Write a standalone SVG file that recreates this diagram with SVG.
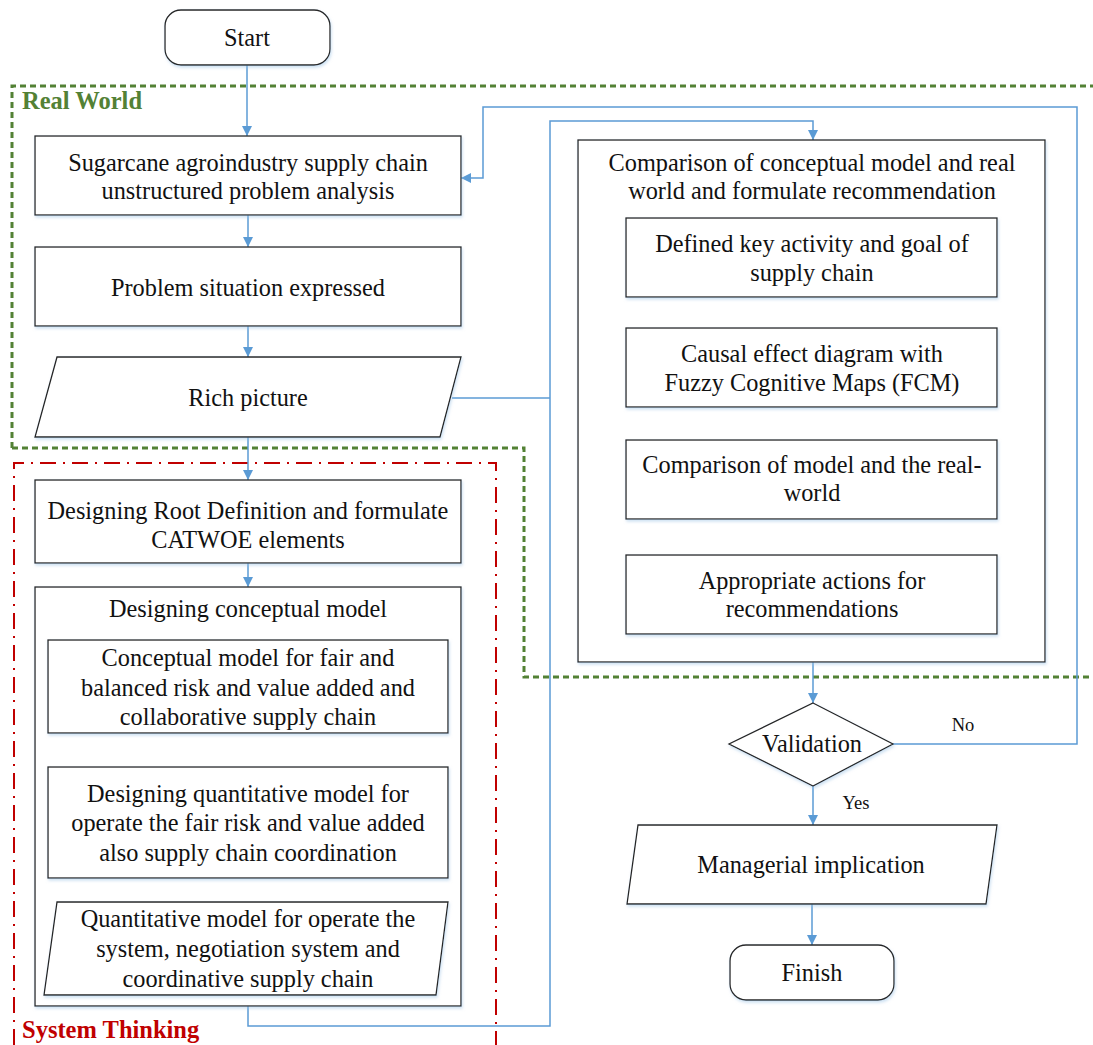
<svg xmlns="http://www.w3.org/2000/svg" width="1093" height="1045" viewBox="0 0 1093 1045">
<defs>
<style>
.box{fill:#fff;stroke:#262626;stroke-width:1.3}
.t{font-family:"Liberation Serif","Times New Roman",serif;font-size:24.3px;fill:#111;text-anchor:middle}
.s{font-family:"Liberation Serif","Times New Roman",serif;font-size:18.5px;fill:#111;text-anchor:middle}
.c{fill:none;stroke:#5B9BD5;stroke-width:1.5}
.green{fill:none;stroke:#538135;stroke-width:3;stroke-dasharray:6 4}
.red{fill:none;stroke:#C00000;stroke-width:2;stroke-dasharray:16 7 2 7}
.lbl{font-family:"Liberation Serif","Times New Roman",serif;font-size:24.5px;font-weight:bold}
</style>
<marker id="ah" viewBox="0 0 10 10" refX="10" refY="5" markerWidth="10" markerHeight="10" markerUnits="userSpaceOnUse" orient="auto">
<path d="M0,0 L10,5 L0,10 z" fill="#5B9BD5"/>
</marker>
<filter id="sh" x="-5%" y="-5%" width="110%" height="115%">
<feDropShadow dx="1" dy="2" stdDeviation="1.5" flood-color="#9DC3E6" flood-opacity="0.5"/>
</filter>
</defs>
<rect width="1093" height="1045" fill="#fff"/>

<g id="regions">
<path class="green" d="M12,448 V86 H1093 M12,448 H524 V677 H1093"/>
<text class="lbl" x="22" y="109" fill="#538135">Real World</text>
<path class="red" d="M14,1045 V463 H496 V1045"/>
<text class="lbl" x="22" y="1038" fill="#C00000">System Thinking</text>
</g>

<g id="connectors">
<line class="c" x1="247" y1="65" x2="247" y2="136" marker-end="url(#ah)"/>
<line class="c" x1="248" y1="215" x2="248" y2="247" marker-end="url(#ah)"/>
<line class="c" x1="248" y1="326" x2="248" y2="357" marker-end="url(#ah)"/>
<line class="c" x1="248" y1="437" x2="248" y2="480" marker-end="url(#ah)"/>
<line class="c" x1="248" y1="563" x2="248" y2="587" marker-end="url(#ah)"/>
<line class="c" x1="248" y1="733" x2="248" y2="767" marker-end="url(#ah)"/>
<line class="c" x1="248" y1="878" x2="248" y2="902" marker-end="url(#ah)"/>
<polyline class="c" points="452,398 550,398"/>
<polyline class="c" points="248,1006 248,1026 550,1026 550,121 813,121 813,140" marker-end="url(#ah)"/>
<line class="c" x1="813" y1="297" x2="813" y2="328" marker-end="url(#ah)"/>
<line class="c" x1="813" y1="407" x2="813" y2="440" marker-end="url(#ah)"/>
<line class="c" x1="813" y1="519" x2="813" y2="555" marker-end="url(#ah)"/>
<line class="c" x1="813" y1="662" x2="813" y2="703" marker-end="url(#ah)"/>
<polyline class="c" points="893,744 1077,744 1077,107 483,107 483,178 461,178" marker-end="url(#ah)"/>
<text class="s" x="963" y="731">No</text>
<line class="c" x1="813" y1="786" x2="813" y2="825" marker-end="url(#ah)"/>
<text class="s" x="856" y="809">Yes</text>
<line class="c" x1="812" y1="904" x2="812" y2="945" marker-end="url(#ah)"/>
</g>

<g id="start"><rect class="box" filter="url(#sh)" x="165" y="10" width="165" height="55" rx="16"/><text class="t" x="247" y="46">Start</text></g>

<g id="analysis"><rect class="box" filter="url(#sh)" x="35" y="136" width="426" height="79"/>
<text class="t" x="248" y="171">Sugarcane agroindustry supply chain</text>
<text class="t" x="248" y="199">unstructured problem analysis</text></g>

<g id="problem"><rect class="box" filter="url(#sh)" x="35" y="247" width="426" height="79"/>
<text class="t" x="248" y="296">Problem situation expressed</text></g>

<g id="rich"><polygon class="box" filter="url(#sh)" points="57,357 461,357 440,437 35,437"/>
<text class="t" x="248" y="406">Rich picture</text></g>

<g id="root"><rect class="box" filter="url(#sh)" x="35" y="480" width="426" height="83"/>
<text class="t" x="248" y="519">Designing Root Definition and formulate</text>
<text class="t" x="248" y="548">CATWOE elements</text></g>

<g id="conceptual"><rect class="box" filter="url(#sh)" x="35" y="587" width="426" height="419"/>
<text class="t" x="248" y="617">Designing conceptual model</text></g>

<g id="cm1"><rect class="box" filter="url(#sh)" x="48" y="640" width="400" height="93"/>
<text class="t" x="248" y="666">Conceptual model for fair and</text>
<text class="t" x="248" y="696">balanced risk and value added and</text>
<text class="t" x="248" y="725">collaborative supply chain</text></g>

<g id="cm2"><rect class="box" filter="url(#sh)" x="48" y="767" width="400" height="111"/>
<text class="t" x="248" y="802">Designing quantitative model for</text>
<text class="t" x="248" y="831">operate the fair risk and value added</text>
<text class="t" x="248" y="861">also supply chain coordination</text></g>

<g id="cm3"><polygon class="box" filter="url(#sh)" points="57,902 448,902 436,995 44,995"/>
<text class="t" x="248" y="927">Quantitative model for operate the</text>
<text class="t" x="248" y="957">system, negotiation system and</text>
<text class="t" x="248" y="987">coordinative supply chain</text></g>

<g id="comparison"><rect class="box" filter="url(#sh)" x="578" y="140" width="467" height="522"/>
<text class="t" x="812" y="171">Comparison of conceptual model and real</text>
<text class="t" x="812" y="199">world and formulate recommendation</text></g>

<g id="keyact"><rect class="box" filter="url(#sh)" x="626" y="218" width="371" height="79"/>
<text class="t" x="812" y="252">Defined key activity and goal of</text>
<text class="t" x="812" y="281">supply chain</text></g>

<g id="causal"><rect class="box" filter="url(#sh)" x="626" y="328" width="371" height="79"/>
<text class="t" x="812" y="362">Causal effect diagram with</text>
<text class="t" x="812" y="391">Fuzzy Cognitive Maps (FCM)</text></g>

<g id="compmodel"><rect class="box" filter="url(#sh)" x="626" y="440" width="371" height="79"/>
<text class="t" x="812" y="473">Comparison of model and the real-</text>
<text class="t" x="812" y="501">world</text></g>

<g id="actions"><rect class="box" filter="url(#sh)" x="626" y="555" width="371" height="79"/>
<text class="t" x="812" y="589">Appropriate actions for</text>
<text class="t" x="812" y="617">recommendations</text></g>

<g id="validation"><polygon class="box" filter="url(#sh)" points="813,703 893,744 813,786 729,744"/>
<text class="t" x="812" y="752">Validation</text></g>

<g id="managerial"><polygon class="box" filter="url(#sh)" points="638,825 997,825 986,904 627,904"/>
<text class="t" x="811" y="873">Managerial implication</text></g>

<g id="finish"><rect class="box" filter="url(#sh)" x="730" y="945" width="164" height="55" rx="16"/>
<text class="t" x="812" y="981">Finish</text></g>
</svg>
